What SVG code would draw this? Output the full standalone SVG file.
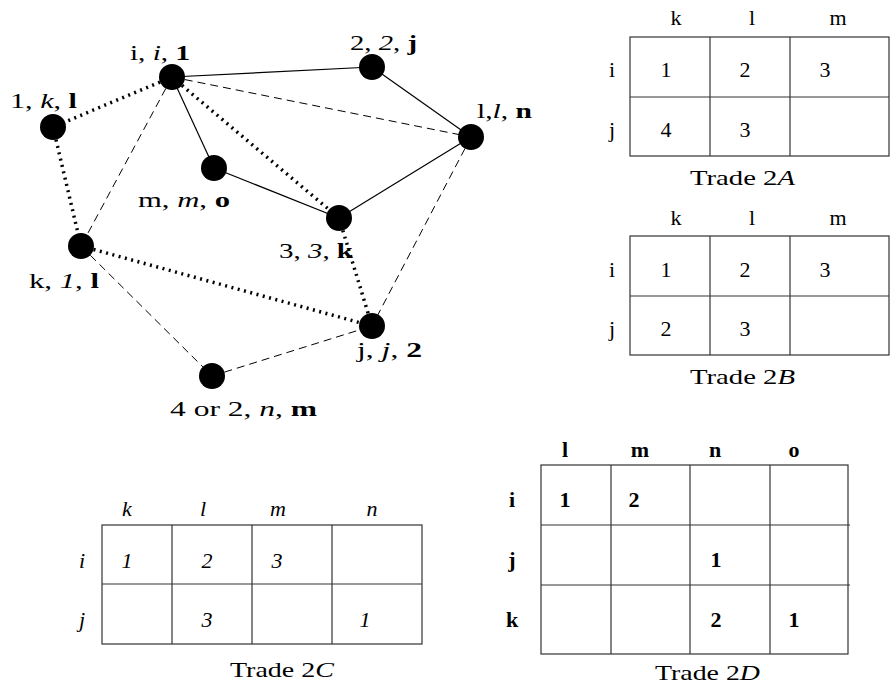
<svg xmlns="http://www.w3.org/2000/svg" width="890" height="694" viewBox="0 0 890 694">
<style>
text { font-family: "Liberation Serif", "Times New Roman", serif; font-size: 22px; fill: #000; }
.it { font-style: italic; }
.bf { font-weight: bold; }
.mid { text-anchor: middle; }
.solid { stroke: #000; stroke-width: 1.2; fill: none; }
.dash { stroke: #000; stroke-width: 1; stroke-dasharray: 8 5; fill: none; }
.dot { stroke: #000; stroke-width: 3.5; stroke-dasharray: 2 4.5; fill: none; }
.node { fill: #000; }
.grid { stroke: #333; stroke-width: 1.2; fill: none; }
</style>
<rect width="890" height="694" fill="#fff"/>
<g id="connectors">
<line class="solid" x1="172" y1="77" x2="372" y2="67"/>
<line class="dash" x1="172" y1="77" x2="471" y2="137"/>
<line class="dot" x1="172" y1="77" x2="53" y2="127"/>
<line class="dot" x1="172" y1="77" x2="339" y2="218"/>
<line class="solid" x1="172" y1="77" x2="214" y2="168"/>
<line class="dash" x1="172" y1="77" x2="81" y2="246"/>
<line class="solid" x1="372" y1="67" x2="471" y2="137"/>
<line class="solid" x1="471" y1="137" x2="339" y2="218"/>
<line class="dash" x1="471" y1="137" x2="372" y2="326"/>
<line class="solid" x1="214" y1="168" x2="339" y2="218"/>
<line class="dot" x1="53" y1="127" x2="81" y2="246"/>
<line class="dot" x1="81" y1="246" x2="372" y2="326"/>
<line class="dot" x1="339" y1="218" x2="372" y2="326"/>
<line class="dash" x1="81" y1="246" x2="212" y2="376"/>
<line class="dash" x1="212" y1="376" x2="372" y2="326"/>
</g>
<g id="node-i"><circle class="node" cx="172" cy="77" r="13"/><text x="130" y="60" textLength="60" lengthAdjust="spacingAndGlyphs">i, <tspan class="it">i</tspan>, <tspan class="bf">1</tspan></text></g>
<g id="node-2j"><circle class="node" cx="372" cy="67" r="13"/><text x="350" y="50" textLength="67" lengthAdjust="spacingAndGlyphs">2, <tspan class="it">2</tspan>, <tspan class="bf">j</tspan></text></g>
<g id="node-1kl"><circle class="node" cx="53" cy="127" r="13"/><text x="10" y="108" textLength="67" lengthAdjust="spacingAndGlyphs">1, <tspan class="it">k</tspan>, <tspan class="bf">l</tspan></text></g>
<g id="node-ln"><circle class="node" cx="471" cy="137" r="13"/><text x="477" y="118" textLength="55" lengthAdjust="spacingAndGlyphs">l,<tspan class="it">l</tspan>, <tspan class="bf">n</tspan></text></g>
<g id="node-mo"><circle class="node" cx="214" cy="168" r="13"/><text x="138" y="207" textLength="92" lengthAdjust="spacingAndGlyphs">m, <tspan class="it">m</tspan>, <tspan class="bf">o</tspan></text></g>
<g id="node-3k"><circle class="node" cx="339" cy="218" r="13"/><text x="279" y="258" textLength="74" lengthAdjust="spacingAndGlyphs">3, <tspan class="it">3</tspan>, <tspan class="bf">k</tspan></text></g>
<g id="node-k1l"><circle class="node" cx="81" cy="246" r="13"/><text x="29" y="288" textLength="70" lengthAdjust="spacingAndGlyphs">k, <tspan class="it">1</tspan>, <tspan class="bf">l</tspan></text></g>
<g id="node-j2"><circle class="node" cx="372" cy="326" r="13"/><text x="357" y="357" textLength="65" lengthAdjust="spacingAndGlyphs">j, <tspan class="it">j</tspan>, <tspan class="bf">2</tspan></text></g>
<g id="node-4or2"><circle class="node" cx="212" cy="376" r="13"/><text x="170" y="416" textLength="147" lengthAdjust="spacingAndGlyphs">4 or 2, <tspan class="it">n</tspan>, <tspan class="bf">m</tspan></text></g>

<g id="table-2A">
<rect class="grid" x="630" y="37" width="259" height="119"/>
<line class="grid" x1="630" y1="97" x2="889" y2="97"/>
<line class="grid" x1="710" y1="37" x2="710" y2="156"/>
<line class="grid" x1="790" y1="37" x2="790" y2="156"/>
<text class="mid" x="676" y="25">k</text><text class="mid" x="752" y="25">l</text><text class="mid" x="838" y="25">m</text>
<text class="mid" x="612" y="77">i</text><text class="mid" x="612" y="137">j</text>
<text class="mid" x="666" y="77">1</text><text class="mid" x="745" y="77">2</text><text class="mid" x="825" y="77">3</text>
<text class="mid" x="666" y="137">4</text><text class="mid" x="745" y="137">3</text>
<text x="690" y="185" textLength="105" lengthAdjust="spacingAndGlyphs">Trade 2<tspan class="it">A</tspan></text>
</g>

<g id="table-2B">
<rect class="grid" x="630" y="236" width="259" height="119"/>
<line class="grid" x1="630" y1="296" x2="889" y2="296"/>
<line class="grid" x1="710" y1="236" x2="710" y2="355"/>
<line class="grid" x1="790" y1="236" x2="790" y2="355"/>
<text class="mid" x="676" y="225">k</text><text class="mid" x="752" y="225">l</text><text class="mid" x="838" y="225">m</text>
<text class="mid" x="612" y="277">i</text><text class="mid" x="612" y="336">j</text>
<text class="mid" x="666" y="277">1</text><text class="mid" x="745" y="277">2</text><text class="mid" x="825" y="277">3</text>
<text class="mid" x="666" y="336">2</text><text class="mid" x="745" y="336">3</text>
<text x="690" y="384" textLength="105" lengthAdjust="spacingAndGlyphs">Trade 2<tspan class="it">B</tspan></text>
</g>

<g id="table-2C">
<rect class="grid" x="102" y="525" width="320" height="119"/>
<line class="grid" x1="102" y1="584" x2="422" y2="584"/>
<line class="grid" x1="172" y1="525" x2="172" y2="644"/>
<line class="grid" x1="252" y1="525" x2="252" y2="644"/>
<line class="grid" x1="332" y1="525" x2="332" y2="644"/>
<text class="mid it" x="127" y="516">k</text><text class="mid it" x="203" y="516">l</text><text class="mid it" x="278" y="516">m</text><text class="mid it" x="372" y="516">n</text>
<text class="mid it" x="82" y="568">i</text><text class="mid it" x="82" y="627">j</text>
<text class="mid it" x="127" y="568">1</text><text class="mid it" x="207" y="568">2</text><text class="mid it" x="277" y="568">3</text>
<text class="mid it" x="207" y="627">3</text><text class="mid it" x="365" y="627">1</text>
<text x="230" y="677" textLength="104" lengthAdjust="spacingAndGlyphs">Trade 2<tspan class="it">C</tspan></text>
</g>

<g id="table-2D">
<rect class="grid" x="541" y="465" width="307" height="189"/>
<line class="grid" x1="541" y1="525" x2="850" y2="525"/>
<line class="grid" x1="541" y1="585" x2="850" y2="585"/>
<line class="grid" x1="611" y1="465" x2="611" y2="654"/>
<line class="grid" x1="690" y1="465" x2="690" y2="654"/>
<line class="grid" x1="770" y1="465" x2="770" y2="654"/>
<text class="mid bf" x="565" y="457">l</text><text class="mid bf" x="640" y="457">m</text><text class="mid bf" x="715" y="457">n</text><text class="mid bf" x="794" y="457">o</text>
<text class="mid bf" x="512" y="507">i</text><text class="mid bf" x="512" y="567">j</text><text class="mid bf" x="512" y="627">k</text>
<text class="mid bf" x="565" y="507">1</text><text class="mid bf" x="634" y="507">2</text>
<text class="mid bf" x="716" y="567">1</text>
<text class="mid bf" x="716" y="627">2</text><text class="mid bf" x="794" y="627">1</text>
<text x="655" y="680" textLength="105" lengthAdjust="spacingAndGlyphs">Trade 2<tspan class="it">D</tspan></text>
</g>
</svg>
